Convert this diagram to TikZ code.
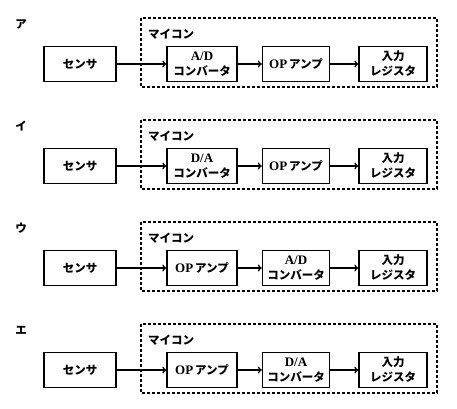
\documentclass[tikz,border=0pt]{standalone}
\usepackage{fontspec}
\setmainfont{Liberation Serif}
\newfontfamily\jp{Noto Sans CJK JP}
\usetikzlibrary{positioning,arrows.meta}

\newcommand{\jt}[1]{{\jp\bfseries #1}}
\newcommand{\lt}[1]{{\fontsize{13}{15}\selectfont #1}}
\newcommand{\txtad}{\lt{A/D}\\\jt{コンバータ}}
\newcommand{\txtda}{\lt{D/A}\\\jt{コンバータ}}
\newcommand{\txtop}{\lt{OP}\,\jt{アンプ}}

\begin{document}
\begin{tikzpicture}[x=1pt,y=-1pt,
        every node/.style={font=\bfseries\fontsize{11.5}{15}\selectfont},
        blk/.style={draw,line width=1.3pt,minimum height=35pt,align=center,inner sep=1pt},
        micom/.style={draw,line width=1.2pt,dash pattern=on 3pt off 2pt},
        arr/.style={-{To[length=4pt,width=7pt]},line width=1.3pt}
        ]
        \useasboundingbox (0,0) rectangle (457,408);

        % one row per answer choice
        \foreach \r/\lab/\pa/\pb in {0/ア/ad/op,1/イ/da/op,2/ウ/op/ad,3/エ/op/da}{
        \begin{scope}[shift={(0,102*\r)}]
        \node (lab\r) at (21,24) {\jt{\lab}};
        % the micro computer
        \draw[micom] (141,18) rectangle (437,87);
        \node[anchor=west,inner sep=0pt] (mc\r) at (148,34) {\jt{マイコン}};
        % the blocks
        \node[blk,minimum width=72pt] (sen\r) at (80,64) {\jt{センサ}};
        \node[blk,minimum width=70pt] (p\r) at (202,64) {\csname txt\pa\endcsname};
        \node[blk,minimum width=67pt] (q\r) at (296,64) {\csname txt\pb\endcsname};
        \node[blk,minimum width=68pt] (reg\r) at (393,64) {\jt{入力}\\\jt{レジスタ}};
        % the signal path
        \draw[arr] (sen\r) -- (p\r);
        \draw[arr] (p\r) -- (q\r);
        \draw[arr] (q\r) -- (reg\r);
        \end{scope}
        }
        \end{tikzpicture}
\end{document}
